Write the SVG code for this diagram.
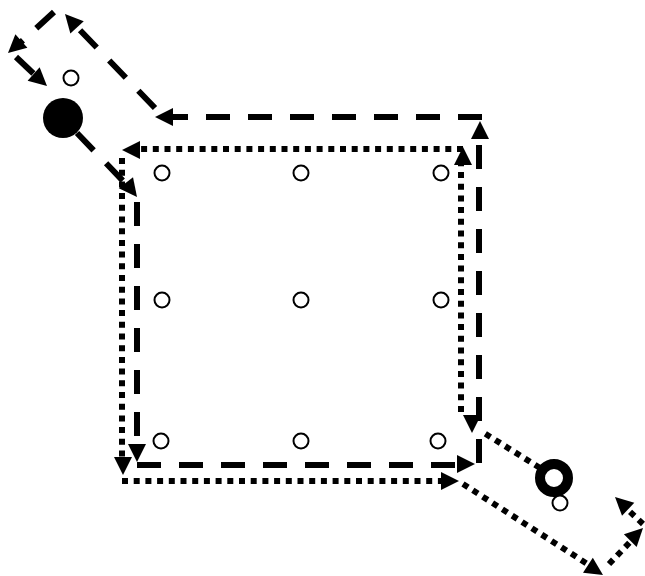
<svg xmlns="http://www.w3.org/2000/svg" xmlns:xlink="http://www.w3.org/1999/xlink" width="645" height="576" viewBox="0 0 645 576">
<style>
.dash{fill:none;stroke:#000;stroke-width:6;stroke-dasharray:24 18}
.dot{fill:none;stroke:#000;stroke-width:6;stroke-dasharray:6 5.7}
.wp{fill:#fff;stroke:#000;stroke-width:2}
</style>
<defs>
<polygon id="ah" points="0,0 -18,-9 -18,9" fill="#000"/>
</defs>
<rect width="645" height="576" fill="#fff"/>
<g id="connectors">
<g id="dashed-path">
<line class="dash" x1="77" y1="133" x2="126" y2="184"/>
<use xlink:href="#ah" transform="translate(137,197) rotate(52)"/>
<line class="dash" x1="137" y1="202" x2="137" y2="448"/>
<use xlink:href="#ah" transform="translate(137,462) rotate(90)"/>
<line class="dash" x1="137" y1="465" x2="460" y2="465"/>
<use xlink:href="#ah" transform="translate(475,464) rotate(0)"/>
<line class="dash" x1="479" y1="463" x2="479" y2="136"/>
<use xlink:href="#ah" transform="translate(480,121) rotate(-90)"/>
<line class="dash" x1="482" y1="117" x2="170" y2="117"/>
<use xlink:href="#ah" transform="translate(155,117) rotate(180)"/>
<line class="dash" x1="155" y1="108" x2="76" y2="26"/>
<use xlink:href="#ah" transform="translate(65,14) rotate(-132)"/>
<line class="dash" x1="54" y1="12" x2="20" y2="43"/>
<use xlink:href="#ah" transform="translate(8,53) rotate(138)"/>
<line class="dash" x1="16" y1="57" x2="36" y2="76"/>
<use xlink:href="#ah" transform="translate(47,86) rotate(42)"/>
</g>
<g id="dotted-path">
<line class="dot" x1="540" y1="468" x2="481" y2="431"/>
<use xlink:href="#ah" transform="translate(472,433) rotate(90)"/>
<line class="dot" x1="461" y1="412" x2="461" y2="163"/>
<use xlink:href="#ah" transform="translate(463,147) rotate(-90)"/>
<line class="dot" x1="463" y1="149" x2="138" y2="149"/>
<use xlink:href="#ah" transform="translate(122,150) rotate(180)"/>
<line class="dot" x1="122" y1="158" x2="122" y2="459"/>
<use xlink:href="#ah" transform="translate(123,475) rotate(90)"/>
<line class="dot" x1="122" y1="481" x2="443" y2="481"/>
<use xlink:href="#ah" transform="translate(459,481) rotate(0)"/>
<line class="dot" x1="463" y1="484" x2="589" y2="565"/>
<use xlink:href="#ah" transform="translate(603,575) rotate(33)"/>
<line class="dot" x1="609" y1="564" x2="632" y2="540"/>
<use xlink:href="#ah" transform="translate(643,528) rotate(-45)"/>
<line class="dot" x1="643" y1="524" x2="628" y2="510"/>
<use xlink:href="#ah" transform="translate(615,497) rotate(-137)"/>
</g>
</g>
<g id="start-node"><circle cx="63" cy="118" r="20" fill="#000"/></g>
<g id="goal-node"><circle cx="554" cy="478" r="14" fill="#fff" stroke="#000" stroke-width="10"/></g>
<g id="wp-start"><circle class="wp" cx="71" cy="78" r="7.5"/></g>
<g id="wp-goal"><circle class="wp" cx="560" cy="503" r="7.5"/></g>
<g id="wp-1"><circle class="wp" cx="162" cy="173" r="7.5"/></g>
<g id="wp-2"><circle class="wp" cx="301" cy="173" r="7.5"/></g>
<g id="wp-3"><circle class="wp" cx="441" cy="173" r="7.5"/></g>
<g id="wp-4"><circle class="wp" cx="162" cy="300" r="7.5"/></g>
<g id="wp-5"><circle class="wp" cx="301" cy="300" r="7.5"/></g>
<g id="wp-6"><circle class="wp" cx="441" cy="300" r="7.5"/></g>
<g id="wp-7"><circle class="wp" cx="161" cy="441" r="7.5"/></g>
<g id="wp-8"><circle class="wp" cx="301" cy="441" r="7.5"/></g>
<g id="wp-9"><circle class="wp" cx="438" cy="441" r="7.5"/></g>
</svg>
